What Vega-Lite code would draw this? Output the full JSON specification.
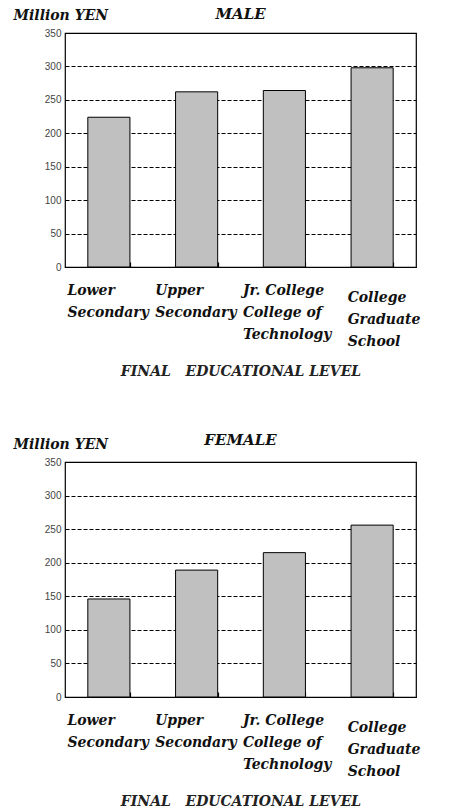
{
  "$schema": "https://vega.github.io/schema/vega-lite/v6.json",
  "background": "white",
  "padding": {"left": 12, "top": 6, "right": 0, "bottom": 0},
  "spacing": 53,
  "datasets": {
    "male": [
      {"level": "Lower|Secondary", "value": 224},
      {"level": "Upper|Secondary", "value": 262},
      {"level": "Jr. College|College of|Technology", "value": 264},
      {"level": "College|Graduate|School", "value": 298}
    ],
    "female": [
      {"level": "Lower|Secondary", "value": 146},
      {"level": "Upper|Secondary", "value": 189},
      {"level": "Jr. College|College of|Technology", "value": 215},
      {"level": "College|Graduate|School", "value": 256}
    ]
  },
  "vconcat": [
    {
      "data": {"name": "male"},
      "width": 351,
      "height": 234,
      "title": {"text": "MALE", "anchor": "middle", "frame": "group", "offset": -14},
      "mark": {"type": "bar", "fill": "#c0c0c0", "stroke": "#000000", "strokeWidth": 1},
      "encoding": {
        "x": {"field": "level", "type": "nominal", "sort": null,
              "scale": {"paddingInner": 0.52, "paddingOuter": 0.26},
              "axis": {"title": "FINAL\u00a0\u00a0 EDUCATIONAL LEVEL"}},
        "y": {"field": "value", "type": "quantitative",
              "scale": {"domain": [0, 350], "nice": false},
              "axis": {"title": "Million YEN"}}
      }
    },
    {
      "data": {"name": "female"},
      "width": 351,
      "height": 235,
      "title": {"text": "FEMALE", "anchor": "middle", "frame": "group", "offset": -11},
      "mark": {"type": "bar", "fill": "#c0c0c0", "stroke": "#000000", "strokeWidth": 1},
      "encoding": {
        "x": {"field": "level", "type": "nominal", "sort": null,
              "scale": {"paddingInner": 0.52, "paddingOuter": 0.26},
              "axis": {"title": "FINAL\u00a0\u00a0 EDUCATIONAL LEVEL"}},
        "y": {"field": "value", "type": "quantitative",
              "scale": {"domain": [0, 350], "nice": false},
              "axis": {"title": "Million YEN"}}
      }
    }
  ],
  "config": {
    "view": {"stroke": "#000000", "strokeWidth": 1.2},
    "title": {"font": "DejaVu Serif", "fontSize": 15, "fontWeight": "bold", "fontStyle": "italic", "color": "#111111"},
    "axisY": {
      "values": [0, 50, 100, 150, 200, 250, 300, 350],
      "grid": true, "gridColor": "#000000", "gridDash": [4, 2], "gridWidth": 1, "gridOpacity": 1,
      "domain": false, "ticks": false,
      "labelFont": "Liberation Sans", "labelFontSize": 10, "labelColor": "#444444", "labelPadding": 4,
      "minExtent": 22, "maxExtent": 22,
      "titleAngle": 0, "titleAlign": "left", "titleBaseline": "alphabetic",
      "titleX": -52, "titleY": -14,
      "titleFont": "DejaVu Serif", "titleFontSize": 14, "titleFontWeight": "bold", "titleFontStyle": "italic", "titleColor": "#111111"
    },
    "axisX": {
      "grid": false, "domain": false,
      "ticks": true, "tickBand": "extent", "tickSize": -5, "tickColor": "#000000", "tickWidth": 1.2,
      "labelExpr": "split(datum.label, '|')",
      "labelAngle": 0,
      "labelAlign": "left",
      "labelBaseline": "top",
      "labelOffset": {"condition": {"test": "datum.value == 'College|Graduate|School'", "value": -25}, "value": -42},
      "labelPadding": {"condition": {"test": "datum.value == 'College|Graduate|School'", "value": 28}, "value": 21},
      "labelLineHeight": 22,
      "labelFont": "DejaVu Serif", "labelFontSize": 14, "labelFontWeight": "bold", "labelFontStyle": "italic", "labelColor": "#111111",
      "labelOverlap": false, "labelBound": false, "labelFlush": false,
      "titleFont": "DejaVu Serif", "titleFontSize": 14, "titleFontWeight": "bold", "titleFontStyle": "italic", "titleColor": "#222222",
      "titlePadding": 16
    }
  }
}
